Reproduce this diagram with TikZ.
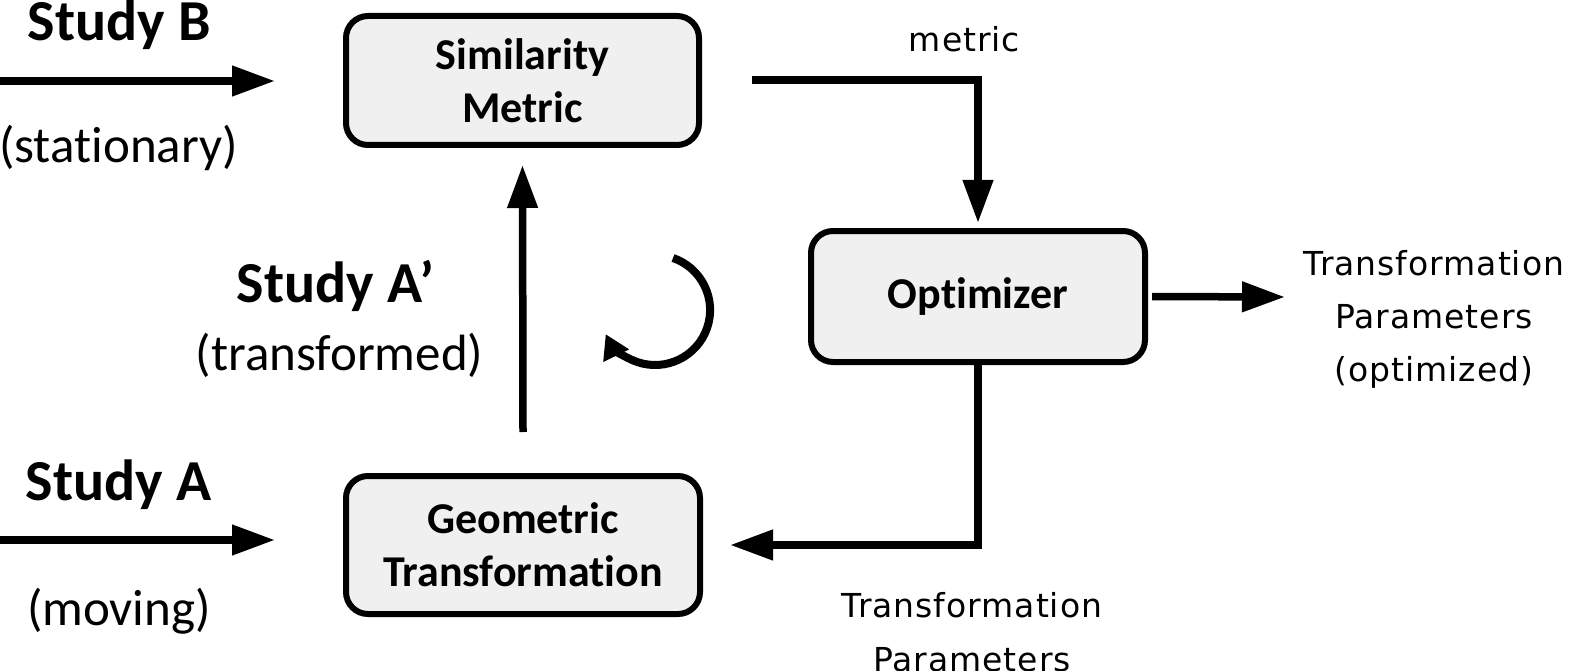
\documentclass[tikz,border=0pt]{standalone}
\usepackage{fontspec}
\setmainfont{Carlito}[Ligatures=NoCommon]
\newfontfamily\lblfont[LetterSpace=3]{DejaVu Sans}
\usetikzlibrary{arrows.meta}
\definecolor{boxgray}{RGB}{240,240,240}
\begin{document}
\begin{tikzpicture}[x=1pt,y=-1pt,
  box/.style={draw, line width=6pt, rounded corners=22pt, fill=boxgray, inner sep=0pt,
    align=center, font=\bfseries\fontsize{44}{53}\selectfont},
  arr/.style={line width=7.5pt, -{Triangle[length=43pt,width=29pt]}},
  arcarr/.style={line width=8pt, -{Triangle[length=24pt,width=27pt]}},
  bigbold/.style={anchor=base, inner sep=0pt, font=\bfseries\fontsize{58}{60}\selectfont},
  paren/.style={anchor=base, inner sep=0pt, font=\fontsize{51}{55}\selectfont},
  lbl/.style={anchor=base, inner sep=0pt, font=\lblfont\fontsize{33}{53}\selectfont}]
\useasboundingbox (0,0) rectangle (1571,671);

% boxes
\node[box, minimum width=353pt, minimum height=129pt] (sim) at (522.5,80.5) {Similarity\\Metric};
\node[box, minimum width=334pt, minimum height=131pt] (opt) at (978,296.5) {Optimizer};
\node[box, minimum width=354pt, minimum height=138pt] (geo) at (523,545) {Geometric\\Transformation};

% left texts
\node[bigbold] (studyB) at (119,41) {Study B};
\node[paren] (stat) at (118.5,163) {(stationary)};
\node[bigbold] (studyA) at (118.5,500) {Study A};
\node[paren] (mov) at (119,625) {(moving)};
\node[bigbold] (studyAp) at (335.5,302) {Study A’};
\node[paren] (transf) at (339.5,370) {(transformed)};

% labels
\node[lbl] (metric) at (964.5,52) {metric};
\node[lbl] (tpo1) at (1434,275) {Transformation};
\node[lbl] (tpo2) at (1434,328) {Parameters};
\node[lbl] (tpo3) at (1434,381) {(optimized)};
\node[lbl] (tp1) at (972,617) {Transformation};
\node[lbl] (tp2) at (972,671) {Parameters};

% connectors
\coordinate (bin) at (0,81);
\coordinate (bend) at (275,81);
\coordinate (ain) at (0,540);
\coordinate (aend) at (275,540);
\coordinate (mstart) at (752,80);
\coordinate (oend) at (1285,297);
\coordinate (gend) at (730,545);

\draw[arr] (bin) -- (bend);
\draw[arr] (ain) -- (aend);
\draw[arr] (mstart) -| ([yshift=5pt]opt.north);
\draw[arr] ([xshift=4pt]opt.east) -- (oend);
\draw[arr] (opt.south) |- (gend);
\draw[arr] ([yshift=41pt]geo.north) -- ([yshift=-17pt]sim.south);

% rotation symbol
\draw[arcarr] (673,258) arc[start angle=-71, end angle=154, radius=55];
\end{tikzpicture}
\end{document}
